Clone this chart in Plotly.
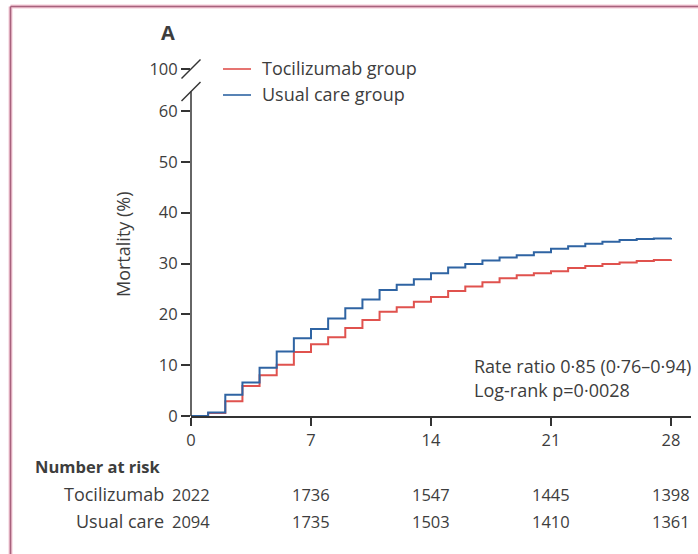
import plotly.graph_objects as go

# Kaplan-Meier style cumulative mortality (%), one value per day 0..28 (step after each day)
days = list(range(0, 29))
tocilizumab = [0, 0.6, 2.9, 5.9, 8.0, 10.1, 12.6, 14.1, 15.5, 17.3, 18.9, 20.5, 21.4, 22.5,
               23.4, 24.6, 25.5, 26.3, 27.1, 27.7, 28.1, 28.5, 29.1, 29.5, 29.9, 30.2, 30.5,
               30.7, 30.8]
usual_care = [0, 0.7, 4.2, 6.6, 9.5, 12.7, 15.3, 17.1, 19.2, 21.2, 22.9, 24.8, 25.8, 26.9,
              28.1, 29.2, 29.9, 30.6, 31.2, 31.6, 32.2, 32.9, 33.4, 33.9, 34.3, 34.6, 34.8,
              34.9, 35.0]

x_ticks = [0, 7, 14, 21, 28]
y_ticks = [0, 10, 20, 30, 40, 50, 60]
risk_tocilizumab = [2022, 1736, 1547, 1445, 1398]
risk_usual = [2094, 1735, 1503, 1410, 1361]

series_names = ["Tocilizumab group", "Usual care group"]
risk_labels = ["Tocilizumab", "Usual care"]
stats_lines = ["Rate ratio 0·85 (0·76–0·94)", "Log-rank p=0·0028"]

RED = "#e0524e"
BLUE = "#2f64a3"
INK = "#3d3d3d"
AXIS = "#333333"
FONT = "Open Sans, Lato, sans-serif"
TXT = 18      # body text
NUM = 16.5    # numerals

W, H = 698, 554
L, R, T, B = 191, 7, 69, 138
PW, PH = W - L - R, H - T - B
X_MAX = PW / (120 / 7)          # 120 px per week
Y_TOP = PH / (305 / 60)         # 0..60 spans 305 px; top of area is the broken "100" mark


def px(xp):
    return (xp - L) / PW


def py(yp):
    return (H - B - yp) / PH


fig = go.Figure()
fig.add_trace(go.Scatter(x=days, y=tocilizumab, mode="lines", line_shape="hv",
                         line=dict(color=RED, width=2), name=series_names[0],
                         showlegend=False))
fig.add_trace(go.Scatter(x=days, y=usual_care, mode="lines", line_shape="hv",
                         line=dict(color=BLUE, width=2), name=series_names[1],
                         showlegend=False))

shapes = []
# y axis drawn by hand so it can carry the 60 -> 100 break
shapes.append(dict(type="line", xref="paper", yref="paper", x0=0, x1=0,
                   y0=0, y1=py(91.5), line=dict(color=AXIS, width=1.5)))
for yc in (69, 91.5):
    shapes.append(dict(type="line", xref="paper", yref="paper",
                       x0=px(181.5), x1=px(200.5), y0=py(yc + 9.5), y1=py(yc - 9.5),
                       line=dict(color=AXIS, width=1.5)))

# manual legend
for i, (name, col) in enumerate(zip(series_names, [RED, BLUE])):
    yl = 69 + 26 * i
    shapes.append(dict(type="line", xref="paper", yref="paper",
                       x0=px(223), x1=px(251), y0=py(yl), y1=py(yl),
                       line=dict(color=col, width=1.6)))

# frame around the panel
for col, wd in (("#f3c9d6", 4), ("#a8627d", 1.6)):
    shapes.append(dict(type="line", xref="paper", yref="paper",
                       x0=px(10.5), x1=px(W + 5), y0=py(6.5), y1=py(6.5),
                       line=dict(color=col, width=wd)))
    shapes.append(dict(type="line", xref="paper", yref="paper",
                       x0=px(10.5), x1=px(10.5), y0=py(6.5), y1=py(H + 5),
                       line=dict(color=col, width=wd)))

ann = []


def text(s, xp, yp, size=TXT, anchor="left", bold=False, **kw):
    ann.append(dict(text=f"<b>{s}</b>" if bold else s, x=px(xp), y=py(yp),
                    xref="paper", yref="paper", xanchor=anchor, yanchor="middle",
                    showarrow=False, font=dict(family=FONT, size=size, color=INK), **kw))


text("A", 168, 33, size=20, anchor="center", bold=True)
for i, name in enumerate(series_names):
    text(name, 260, 68 + 26 * i)
text(stats_lines[0], 472, 366)
text(stats_lines[1], 472, 390)
text("Mortality (%)", 123, 244, anchor="center", textangle=-90)

text("Number at risk", 33, 467, size=16.5, bold=True)
for i, (lab, row) in enumerate(zip(risk_labels, [risk_tocilizumab, risk_usual])):
    yr = 494 + 27 * i
    text(lab, 166, yr, anchor="right")
    for d, n in zip(x_ticks, row):
        ann.append(dict(text=str(n), x=d, y=py(yr), xref="x", yref="paper",
                        xanchor="center", yanchor="middle", showarrow=False,
                        font=dict(family=FONT, size=NUM, color=INK)))

fig.update_layout(
    width=W, height=H,
    margin=dict(l=L, r=R, t=T, b=B, pad=0),
    paper_bgcolor="white", plot_bgcolor="white",
    shapes=shapes, annotations=ann,
    font=dict(family=FONT, size=NUM, color=INK),
)
fig.update_xaxes(range=[0, X_MAX], tickvals=x_ticks, ticks="outside", ticklen=8,
                 tickwidth=1.5, tickcolor=AXIS, showline=True, linecolor=AXIS,
                 linewidth=1.5, showgrid=False, zeroline=False,
                 tickfont=dict(family=FONT, size=NUM, color=INK))
fig.update_yaxes(range=[0, Y_TOP], tickvals=y_ticks + [Y_TOP],
                 ticktext=[str(v) for v in y_ticks] + ["100"],
                 ticks="outside", ticklen=9, tickwidth=1.5, tickcolor=AXIS,
                 showline=False, showgrid=False, zeroline=False,
                 tickfont=dict(family=FONT, size=NUM, color=INK))

fig.write_html("out.html")
